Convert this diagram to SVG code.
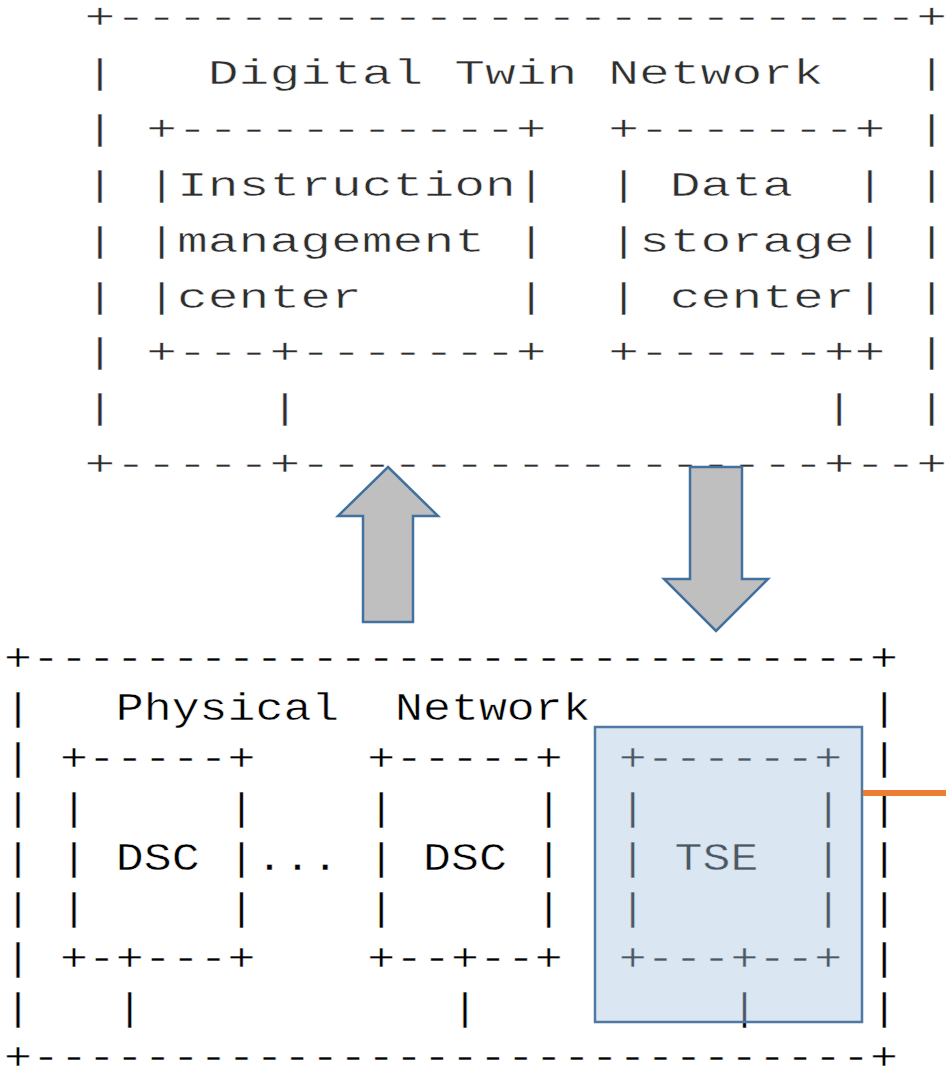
<svg xmlns="http://www.w3.org/2000/svg" width="946" height="1073" viewBox="0 0 946 1073">
  <style>
    .top { font-family: "Liberation Mono", "DejaVu Sans Mono", monospace; font-size: 36px; fill: #2e2e2e; stroke: #ffffff; stroke-width: 0.5; paint-order: fill stroke; white-space: pre; }
    .bot { font-family: "Liberation Mono", "DejaVu Sans Mono", monospace; font-size: 38px; fill: #000000; stroke: #ffffff; stroke-width: 0.45; paint-order: fill stroke; white-space: pre; }
    .block-arrow { fill: #bfbfbf; stroke: #41719c; stroke-width: 2.5; stroke-linejoin: miter; }
    .link { stroke: #ed7d31; stroke-width: 6; fill: none; }
    .highlight { fill: #aac6e1; fill-opacity: 0.44; stroke: #4f79a3; stroke-width: 2.5; }
  </style>
  <rect width="946" height="1073" fill="#ffffff"/>

  <!-- Upper half: digital twin network, character grid 30.8 px x 55.9 px -->
  <g transform="translate(84.6,0) scale(1.426,1)">
    <g id="digital-twin-network">
      <text class="top" x="0" y="28.1">+--------------------------+</text>
      <text class="top" x="0" y="84">|</text><text class="top" x="583.2" y="84">|</text>
      <text class="top" x="0" y="139.9">|</text><text class="top" x="583.2" y="139.9">|</text>
      <text class="top" x="0" y="195.8">|</text><text class="top" x="583.2" y="195.8">|</text>
      <text class="top" x="0" y="251.7">|</text><text class="top" x="583.2" y="251.7">|</text>
      <text class="top" x="0" y="307.6">|</text><text class="top" x="583.2" y="307.6">|</text>
      <text class="top" x="0" y="363.5">|</text><text class="top" x="583.2" y="363.5">|</text>
      <text class="top" x="0" y="419.4">|</text><text class="top" x="583.2" y="419.4">|</text>
      <text class="top" x="0" y="475.3">+-----+-----------------+--+</text>
      <text class="top" x="86.4" y="84">Digital Twin Network</text>
    </g>
    <g id="instruction-management-center">
      <text class="top" x="43.2" y="139.9">+-----------+</text>
      <text class="top" x="43.2" y="195.8">|Instruction|</text>
      <text class="top" x="43.2" y="251.7">|management |</text>
      <text class="top" x="43.2" y="307.6">|center     |</text>
      <text class="top" x="43.2" y="363.5">+---+-------+</text>
    </g>
    <g id="data-storage-center">
      <text class="top" x="367.2" y="139.9">+-------+</text>
      <text class="top" x="367.2" y="195.8">| Data  |</text>
      <text class="top" x="367.2" y="251.7">|storage|</text>
      <text class="top" x="367.2" y="307.6">| center|</text>
      <text class="top" x="367.2" y="363.5">+------++</text>
    </g>
    <g id="upper-links">
      <text class="top" x="129.6" y="419.4">|</text>
      <text class="top" x="518.4" y="419.4">|</text>
    </g>
  </g>

  <!-- Lower half: physical network, character grid 27.94 px x 50 px -->
  <g transform="translate(4.03,0) scale(1.2254,1)">
    <g id="physical-network">
      <text class="bot" x="0" y="670">+------------------------------+</text>
      <text class="bot" x="0" y="720">|</text><text class="bot" x="706.8" y="720">|</text>
      <text class="bot" x="0" y="770">|</text><text class="bot" x="706.8" y="770">|</text>
      <text class="bot" x="0" y="820">|</text><text class="bot" x="706.8" y="820">|</text>
      <text class="bot" x="0" y="870">|</text><text class="bot" x="706.8" y="870">|</text>
      <text class="bot" x="0" y="920">|</text><text class="bot" x="706.8" y="920">|</text>
      <text class="bot" x="0" y="970">|</text><text class="bot" x="706.8" y="970">|</text>
      <text class="bot" x="0" y="1020">|</text><text class="bot" x="706.8" y="1020">|</text>
      <text class="bot" x="0" y="1069">+------------------------------+</text>
      <text class="bot" x="91.2" y="720">Physical  Network</text>
    </g>
    <g id="dsc-1">
      <text class="bot" x="45.6" y="770">+-----+</text>
      <text class="bot" x="45.6" y="820">|     |</text>
      <text class="bot" x="45.6" y="870">| DSC |</text>
      <text class="bot" x="45.6" y="920">|     |</text>
      <text class="bot" x="45.6" y="970">+-+---+</text>
    </g>
    <g id="ellipsis">
      <text class="bot" x="205.2" y="870">...</text>
    </g>
    <g id="dsc-n">
      <text class="bot" x="296.4" y="770">+-----+</text>
      <text class="bot" x="296.4" y="820">|     |</text>
      <text class="bot" x="296.4" y="870">| DSC |</text>
      <text class="bot" x="296.4" y="920">|     |</text>
      <text class="bot" x="296.4" y="970">+--+--+</text>
    </g>
    <g id="lower-links">
      <text class="bot" x="91.2" y="1020">|</text>
      <text class="bot" x="364.8" y="1020">|</text>
      <text class="bot" x="592.8" y="1020">|</text>
    </g>
    <g id="tse-text">
      <text class="bot" x="501.6" y="770">+------+</text>
      <text class="bot" x="501.6" y="820">|      |</text>
      <text class="bot" x="501.6" y="870">| TSE  |</text>
      <text class="bot" x="501.6" y="920">|      |</text>
      <text class="bot" x="501.6" y="970">+---+--+</text>
    </g>
  </g>

  <!-- TSE highlight box -->
  <g id="tse">
    <rect class="highlight" x="595" y="727" width="267" height="295"/>
  </g>

  <!-- Connectors between the two networks -->
  <g id="connectors">
    <polygon class="block-arrow" points="388,467 438,516 413,516 413,622 363,622 363,516 338,516"/>
    <polygon class="block-arrow" points="690,467 742,467 742,579 768,579 716,631 664,579 690,579"/>
    <line class="link" x1="863" y1="793" x2="946" y2="793"/>
  </g>
</svg>
